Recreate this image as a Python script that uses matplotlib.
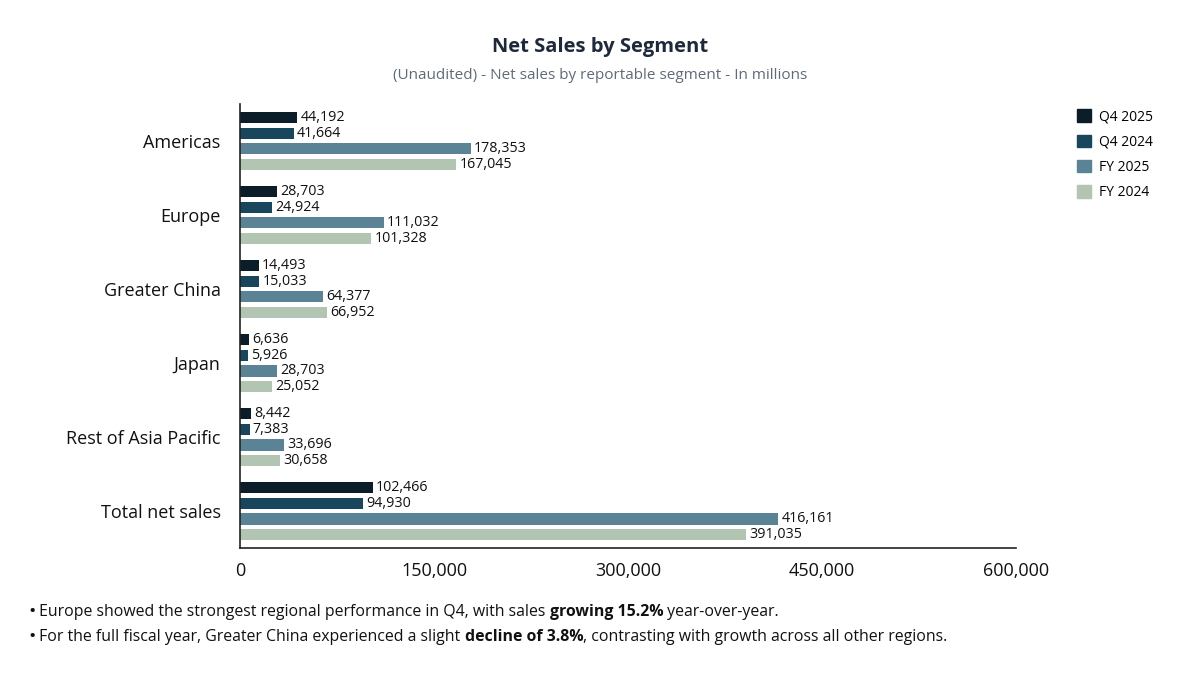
import matplotlib.pyplot as plt
import numpy as np
from matplotlib.patches import Patch

plt.rcParams['font.family'] = ['Open Sans', 'DejaVu Sans']

segments = ['Americas', 'Europe', 'Greater China', 'Japan', 'Rest of Asia Pacific', 'Total net sales']
series_names = ['Q4 2025', 'Q4 2024', 'FY 2025', 'FY 2024']
q4_2025 = [44192, 28703, 14493, 6636, 8442, 102466]
q4_2024 = [41664, 24924, 15033, 5926, 7383, 94930]
fy_2025 = [178353, 111032, 64377, 28703, 33696, 416161]
fy_2024 = [167045, 101328, 66952, 25052, 30658, 391035]
x_ticks = [0, 150000, 300000, 450000, 600000]

colors = ['#0b1d29', '#17465d', '#5b8396', '#b1c5b2']

fig = plt.figure(figsize=(12, 6.76), dpi=100)
ax = fig.add_axes([0.2, 0.189, 0.6467, 0.657])

y = np.arange(len(segments))
step = 0.21
bar_h = 0.15
all_series = [q4_2025, q4_2024, fy_2025, fy_2024]
for i, (vals, c) in enumerate(zip(all_series, colors)):
    pos = y + (i - 1.5) * step
    ax.barh(pos, vals, height=bar_h, color=c)
    for p, v in zip(pos, vals):
        ax.text(v + 2500, p, f'{v:,}', va='center', ha='left', fontsize=10.3, color='#111111')

ax.set_ylim(5.5, -0.5)
ax.set_xlim(0, 600000)
ax.set_yticks(y)
ax.set_yticklabels(segments, fontsize=13, color='#111111')
ax.set_xticks(x_ticks)
ax.set_xticklabels([f'{t:,}' for t in x_ticks], fontsize=13, color='#111111')
ax.tick_params(axis='both', length=0)
ax.tick_params(axis='y', pad=14)
ax.tick_params(axis='x', pad=10)
for s in ['top', 'right']:
    ax.spines[s].set_visible(False)
for s in ['left', 'bottom']:
    ax.spines[s].set_color('#222222')
    ax.spines[s].set_linewidth(1.2)

handles = [Patch(color=c, label=n) for c, n in zip(colors, series_names)]
fig.legend(handles=handles, loc='upper left', bbox_to_anchor=(0.887, 0.857), frameon=False,
           fontsize=10, handlelength=1.0, handleheight=1.0, labelspacing=0.75, handletextpad=0.6)

fig.text(0.5, 0.930, 'Net Sales by Segment', ha='center', va='center', fontsize=14.5,
         fontweight='bold', color='#1e2a3b')
fig.text(0.5, 0.888, '(Unaudited) - Net sales by reportable segment - In millions', ha='center',
         va='center', fontsize=11, color='#5f6b7a')

# footnotes with bold fragments
notes = [
    [('•', 'normal'), (' Europe showed the strongest regional performance in Q4, with sales ', 'normal'),
     ('growing 15.2%', 'bold'), (' year-over-year.', 'normal')],
    [('•', 'normal'), (' For the full fiscal year, Greater China experienced a slight ', 'normal'),
     ('decline of 3.8%', 'bold'), (', contrasting with growth across all other regions.', 'normal')],
]
fig.canvas.draw()
renderer = fig.canvas.get_renderer()
for row, parts in enumerate(notes):
    x = 28
    ypix = 676 - (612 + row * 25)
    for j, (txt, w) in enumerate(parts):
        fs = 14 if j == 0 else 11.4
        t = fig.text(x / 1200, ypix / 676, txt, ha='left', va='center', fontsize=fs,
                     fontweight=w, color='#111111')
        x += t.get_window_extent(renderer).width

fig.savefig('out.png', dpi=100, facecolor='white')
